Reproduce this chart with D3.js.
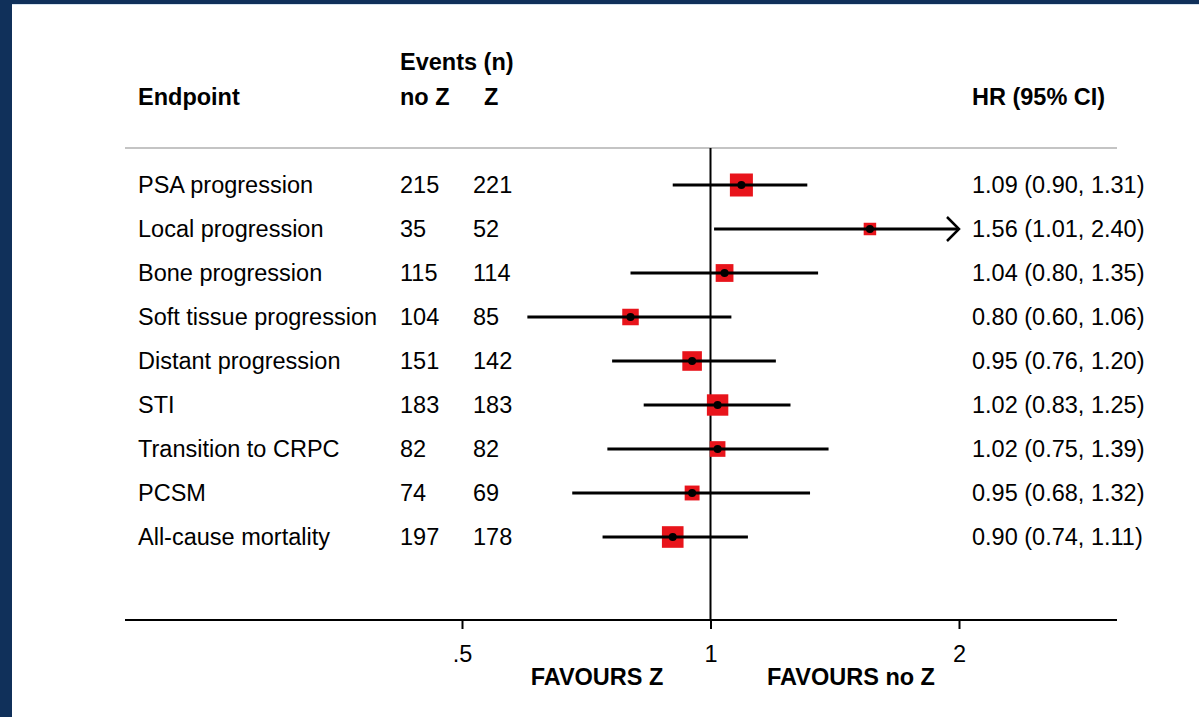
<!DOCTYPE html>
<html>
<head>
<meta charset="utf-8">
<script src="https://cdn.jsdelivr.net/npm/d3@7"></script>
<style>
  html, body { margin: 0; padding: 0; background: #ffffff; }
  svg { display: block; font-family: "Liberation Sans", Arial, sans-serif; }
</style>
</head>
<body>
<svg id="chart" width="1199" height="717"></svg>
<script>
// Endpoints and their hazard ratios (Z vs no Z)
const endpoints = [
  "PSA progression", "Local progression", "Bone progression",
  "Soft tissue progression", "Distant progression", "STI",
  "Transition to CRPC", "PCSM", "All-cause mortality"
];
const eventsNoZ = [215, 35, 115, 104, 151, 183, 82, 74, 197];
const eventsZ   = [221, 52, 114, 85, 142, 183, 82, 69, 178];
const hr        = [1.09, 1.56, 1.04, 0.80, 0.95, 1.02, 1.02, 0.95, 0.90];
const ciLow     = [0.90, 1.01, 0.80, 0.60, 0.76, 0.83, 0.75, 0.68, 0.74];
const ciHigh    = [1.31, 2.40, 1.35, 1.06, 1.20, 1.25, 1.39, 1.32, 1.11];
const tickValues = [0.5, 1, 2];
const tickLabels = [".5", "1", "2"];

const rows = endpoints.map((name, i) => ({
  name, noZ: eventsNoZ[i], z: eventsZ[i],
  hr: hr[i], lo: ciLow[i], hi: ciHigh[i], total: eventsNoZ[i] + eventsZ[i]
}));

const svg = d3.select("#chart");
const W = 1199, H = 717;
const FS = 23.5;
const navy = "#10305a";

// page frame
svg.append("rect").attr("width", W).attr("height", H).attr("fill", "#ffffff");
svg.append("rect").attr("x", 0).attr("y", 0).attr("width", W).attr("height", 4).attr("fill", navy);
svg.append("rect").attr("x", 0).attr("y", 4).attr("width", W).attr("height", 1).attr("fill", "#d6e3ef");
svg.append("rect").attr("x", 0).attr("y", 0).attr("width", 12).attr("height", H).attr("fill", navy);

// scales
const x = d3.scaleLog().domain([0.5, 2]).range([462, 959]);
const xMaxShown = 2;
const y = d3.scalePoint().domain(endpoints).range([185, 537]);
const box = d3.scaleSqrt().domain([0, d3.max(rows, d => d.total)]).range([4, 23]);

const lineLeft = 125, lineRight = 1117;
const topLine = 148, axisY = 620;

// header
const header = svg.append("g").attr("font-weight", "bold").attr("font-size", FS).attr("fill", "#000");
header.append("text").attr("x", 400).attr("y", 70).text("Events (n)");
header.append("text").attr("x", 138).attr("y", 105).text("Endpoint");
header.append("text").attr("x", 400).attr("y", 105).text("no Z");
header.append("text").attr("x", 484).attr("y", 105).text("Z");
header.append("text").attr("x", 972).attr("y", 105).text("HR (95% CI)");

// separator under the header
svg.append("line")
  .attr("x1", lineLeft).attr("x2", lineRight)
  .attr("y1", topLine).attr("y2", topLine)
  .attr("stroke", "#c4c4c4").attr("stroke-width", 2);

// null line at HR = 1
svg.append("line")
  .attr("x1", x(1)).attr("x2", x(1))
  .attr("y1", topLine).attr("y2", axisY)
  .attr("stroke", "#000").attr("stroke-width", 2);

// table text
const table = svg.append("g").attr("font-size", FS).attr("fill", "#000");
const fmt = d3.format(".2f");
rows.forEach(d => {
  const yy = y(d.name) + 8;
  table.append("text").attr("x", 138).attr("y", yy).text(d.name);
  table.append("text").attr("x", 400).attr("y", yy).text(d.noZ);
  table.append("text").attr("x", 473).attr("y", yy).text(d.z);
  table.append("text").attr("x", 972).attr("y", yy)
    .text(`${fmt(d.hr)} (${fmt(d.lo)}, ${fmt(d.hi)})`);
});

// confidence intervals, boxes and point estimates
const marks = svg.append("g");
rows.forEach(d => {
  const yy = y(d.name);
  const clipped = d.hi > xMaxShown;
  const x2 = clipped ? x(xMaxShown) : x(d.hi);
  const s = box(d.total);
  marks.append("rect")
    .attr("x", x(d.hr) - s / 2).attr("y", yy - s / 2)
    .attr("width", s).attr("height", s)
    .attr("fill", "#e8141b");
  marks.append("line")
    .attr("x1", x(d.lo)).attr("x2", x2)
    .attr("y1", yy).attr("y2", yy)
    .attr("stroke", "#000").attr("stroke-width", 3);
  if (clipped) {
    marks.append("path")
      .attr("d", `M${x2 - 12},${yy - 12} L${x2},${yy} L${x2 - 12},${yy + 12}`)
      .attr("fill", "none").attr("stroke", "#000").attr("stroke-width", 2.5);
  }
  marks.append("circle")
    .attr("cx", x(d.hr)).attr("cy", yy).attr("r", 4)
    .attr("fill", "#000");
});

// x axis
const axis = svg.append("g")
  .attr("transform", `translate(0,${axisY})`)
  .call(d3.axisBottom(x)
    .tickValues(tickValues)
    .tickFormat((d, i) => tickLabels[i])
    .tickSize(9)
    .tickPadding(16));
axis.select(".domain").remove();
axis.selectAll(".tick line").attr("stroke", "#000").attr("stroke-width", 2);
axis.selectAll(".tick text")
  .attr("font-size", FS).attr("font-family", "Liberation Sans, Arial, sans-serif")
  .attr("fill", "#000");
axis.append("line")
  .attr("x1", lineLeft).attr("x2", lineRight)
  .attr("y1", 0).attr("y2", 0)
  .attr("stroke", "#000").attr("stroke-width", 2);

// direction labels
const fav = svg.append("g").attr("font-weight", "bold").attr("font-size", FS)
  .attr("fill", "#000").attr("text-anchor", "middle");
fav.append("text").attr("x", 597).attr("y", 685).text("FAVOURS Z");
fav.append("text").attr("x", 851).attr("y", 685).text("FAVOURS no Z");
</script>
</body>
</html>
